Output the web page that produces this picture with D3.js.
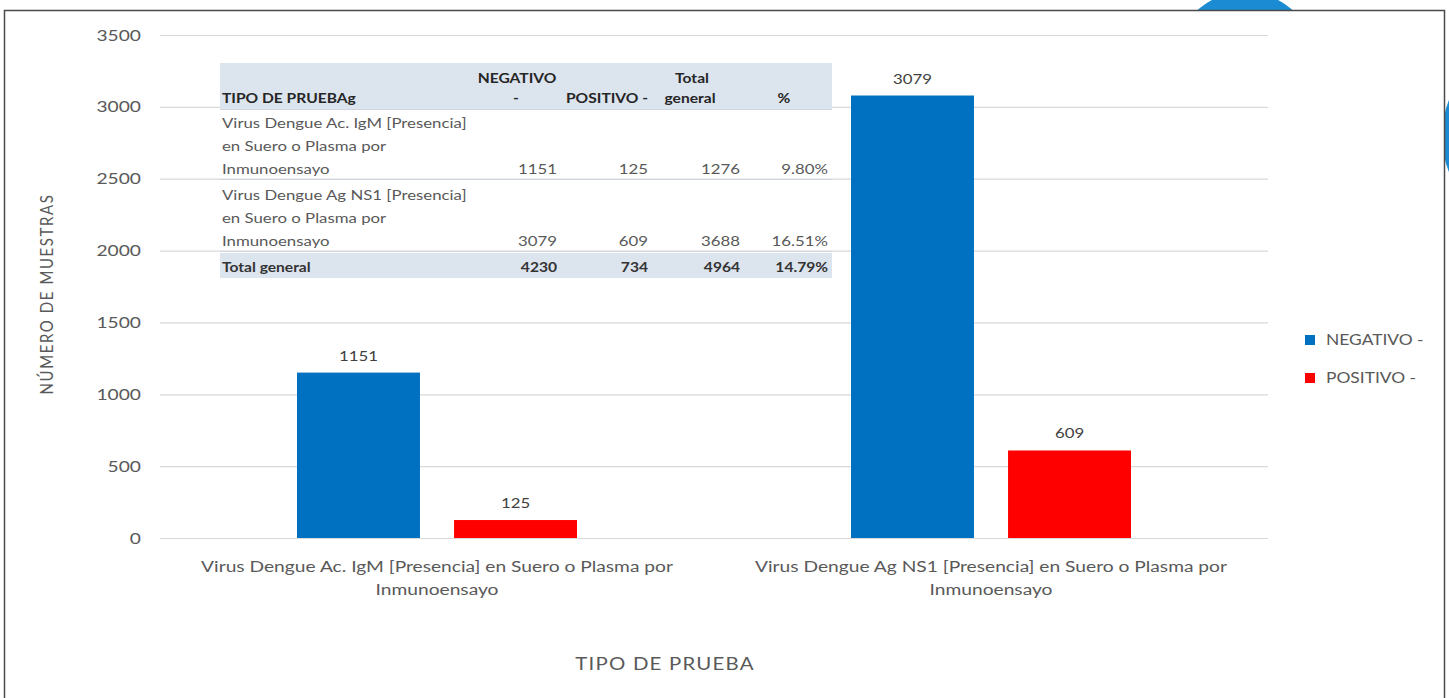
<!DOCTYPE html>
<html>
<head>
<meta charset="utf-8">
<script src="https://cdn.jsdelivr.net/npm/d3@7"></script>
<style>
body{margin:0;background:#fff;}
svg{display:block;}
text{font-family:Lato,"Open Sans",sans-serif;}
</style>
</head>
<body>
<svg id="canvas" width="1449" height="698"></svg>
<script>
// data
let categories=["Virus Dengue Ac. IgM [Presencia] en Suero o Plasma por Inmunoensayo","Virus Dengue Ag NS1 [Presencia] en Suero o Plasma por Inmunoensayo"];
let catLines=[["Virus Dengue Ac. IgM [Presencia] en Suero o Plasma por","Inmunoensayo"],["Virus Dengue Ag NS1 [Presencia] en Suero o Plasma por","Inmunoensayo"]];
let series=["NEGATIVO -","POSITIVO -"];
let negativo=[1151,3079];
let positivo=[125,609];
let colors=["#0070c0","#ff0000"];
let yTicks=[0,500,1000,1500,2000,2500,3000,3500];

// table inside the chart
let tableRowLabels=[["Virus Dengue Ac. IgM [Presencia]","en Suero o Plasma por","Inmunoensayo"],["Virus Dengue Ag NS1 [Presencia]","en Suero o Plasma por","Inmunoensayo"]];
let tableNeg=[1151,3079];
let tablePos=[125,609];
let tableTotal=[1276,3688];
let tablePct=["9.80%","16.51%"];
let tableTotals=["Total general","4230","734","4964","14.79%"];

let w=1449,h=698;
let sx=1.2; // the source text is a bit wide, stretch it sideways
let canvas=d3.select("#canvas");

let stretch=(sel)=>{
  sel.each(function(){
    let t=d3.select(this);
    let x=+t.attr("x")||0, y=+t.attr("y")||0;
    t.attr("x",0).attr("y",0).attr("transform","translate("+x+","+y+") scale("+sx+",1)");
  });
};

// decorative blue shapes behind the chart box
canvas.append("circle").attr("cx",1245).attr("cy",64).attr("r",72).attr("fill","#1b8bd3");
canvas.append("circle").attr("cx",1540).attr("cy",136).attr("r",98).attr("fill","#1b8bd3");
canvas.append("rect").attr("x",4.5).attr("y",10.5).attr("width",1440).attr("height",700).attr("fill","#fff").attr("stroke","#4a4a4a").attr("stroke-width",1.5);

let x0=d3.scaleBand().domain(categories).range([160,1268]);
let x1=d3.scaleBand().domain(series).range([-140,140]).paddingInner(0.217);
let y=d3.scaleLinear().domain([0,3500]).range([538,35]);

// grid + y labels
let yAxis=d3.axisLeft(y).tickValues(yTicks).tickFormat(d3.format("d")).tickSize(-(1268-160)).tickPadding(19);
let gy=canvas.append("g").attr("transform","translate(160,0)").call(yAxis);
gy.select(".domain").remove();
gy.selectAll(".tick line").attr("stroke","#d9d9d9").attr("stroke-width",1.2);
gy.selectAll(".tick text").attr("fill","#595959").style("font-family","Lato,sans-serif").style("font-size","16px");
stretch(gy.selectAll(".tick text"));

// bars
let groups=canvas.selectAll(".grp").data(categories).enter().append("g").attr("class","grp")
  .attr("transform",(d)=>"translate("+(x0(d)+x0.bandwidth()/2)+",0)");
groups.each(function(cat,i){
  let vals=[negativo[i],positivo[i]];
  let g=d3.select(this);
  g.selectAll("rect").data(vals).enter().append("rect")
    .attr("x",(v,j)=>x1(series[j])).attr("width",x1.bandwidth())
    .attr("y",(v)=>y(v)).attr("height",(v)=>y(0)-y(v))
    .attr("fill",(v,j)=>colors[j]);
  g.selectAll(".lbl").data(vals).enter().append("text").attr("class","lbl")
    .attr("x",(v,j)=>x1(series[j])+x1.bandwidth()/2).attr("y",(v)=>y(v)-12)
    .attr("text-anchor","middle").attr("fill","#404040").style("font-size","14px").text((v)=>v);
  g.selectAll(".cat").data(catLines[i]).enter().append("text").attr("class","cat")
    .attr("x",0).attr("y",(d,k)=>572+k*23).attr("text-anchor","middle")
    .attr("fill","#595959").style("font-size","16px").text((d)=>d);
});
stretch(canvas.selectAll(".lbl"));
stretch(canvas.selectAll(".cat"));

// axis titles
canvas.append("text").attr("transform","translate(53,294) rotate(-90) scale(1,"+sx+")").attr("text-anchor","middle")
  .attr("fill","#595959").style("font-size","15px").style("letter-spacing","1.6px").text("NÚMERO DE MUESTRAS");
canvas.append("text").attr("class","xt").attr("x",665).attr("y",670).attr("text-anchor","middle")
  .attr("fill","#595959").style("font-size","17px").style("letter-spacing","1px").text("TIPO DE PRUEBA");
stretch(canvas.selectAll(".xt"));

// legend
let leg=canvas.append("g").selectAll("g").data(series).enter().append("g")
  .attr("transform",(d,i)=>"translate(1305,"+(340+i*38)+")");
leg.append("rect").attr("x",0).attr("y",-5).attr("width",10).attr("height",10).attr("fill",(d,i)=>colors[i]);
leg.append("text").attr("class","lg").attr("x",21).attr("y",5).attr("fill","#595959").style("font-size","14.5px").text((d)=>d);
stretch(canvas.selectAll(".lg"));

// data table
let tb=canvas.append("g").style("font-size","14px");
tb.append("rect").attr("x",220).attr("y",63).attr("width",612).attr("height",46).attr("fill","#dce4ee");
tb.append("rect").attr("x",220).attr("y",253).attr("width",612).attr("height",25).attr("fill","#dce4ee");
[109.5,179.5,251.5].forEach((ly)=>{
  tb.append("line").attr("x1",220).attr("x2",832).attr("y1",ly).attr("y2",ly).attr("stroke","#cfd6df").attr("stroke-width",1);
});
let hdr=[["TIPO DE PRUEBAg",222,103,"start"],["NEGATIVO",517,83,"middle"],["-",516,103,"middle"],["POSITIVO -",648,103,"end"],["Total",692,83,"middle"],["general",690,103,"middle"],["%",784,103,"middle"]];
tb.selectAll(".hd").data(hdr).enter().append("text").attr("class","hd")
  .attr("x",(d)=>d[1]).attr("y",(d)=>d[2]).attr("text-anchor",(d)=>d[3])
  .attr("fill","#262626").style("font-weight","bold").style("font-size","13px").text((d)=>d[0]);
let colX=[557,648,740,828];
tableRowLabels.forEach((lines,i)=>{
  let top=128+i*72;
  lines.forEach((t,k)=>{
    tb.append("text").attr("class","tc").attr("x",222).attr("y",top+k*23).attr("fill","#595959").text(t);
  });
  let nums=[tableNeg[i],tablePos[i],tableTotal[i],tablePct[i]];
  nums.forEach((n,c)=>{
    tb.append("text").attr("class","tc").attr("x",colX[c]).attr("y",top+46).attr("text-anchor","end").attr("fill","#595959").text(n);
  });
});
tb.append("text").attr("class","tc").attr("x",222).attr("y",272).attr("fill","#333").style("font-weight","bold").style("font-size","13px").text(tableTotals[0]);
tableTotals.slice(1).forEach((n,c)=>{
  tb.append("text").attr("class","tc").attr("x",colX[c]).attr("y",272).attr("text-anchor","end").attr("fill","#333").style("font-weight","bold").style("font-size","13px").text(n);
});
stretch(tb.selectAll("text"));
</script>
</body>
</html>
